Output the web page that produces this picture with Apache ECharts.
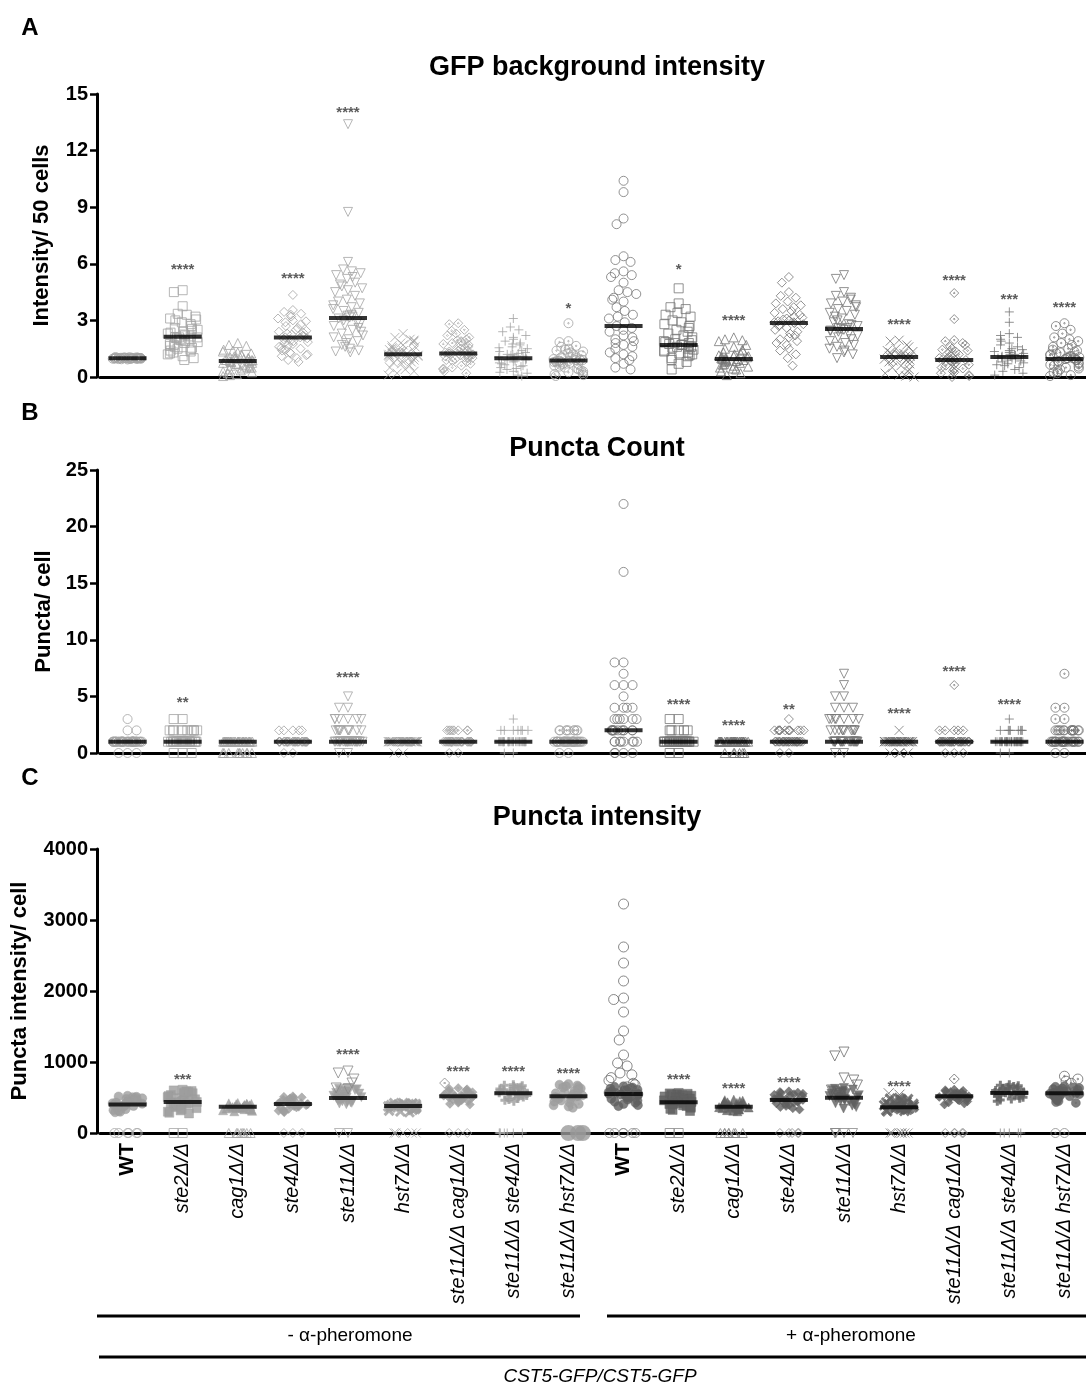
<!DOCTYPE html>
<html>
<head>
<meta charset="utf-8">
<script src="https://cdn.jsdelivr.net/npm/echarts@6.0.0/dist/echarts.min.js"></script>
<style>
html, body { margin: 0; padding: 0; background: #fff; }
#chart { width: 1086px; height: 1386px; }
</style>
</head>
<body>
<div id="chart"></div>
<script>
var categories = ['WT', 'ste2Δ/Δ', 'cag1Δ/Δ', 'ste4Δ/Δ', 'ste11Δ/Δ', 'hst7Δ/Δ',
    'ste11Δ/Δ cag1Δ/Δ', 'ste11Δ/Δ ste4Δ/Δ', 'ste11Δ/Δ hst7Δ/Δ',
    'WT', 'ste2Δ/Δ', 'cag1Δ/Δ', 'ste4Δ/Δ', 'ste11Δ/Δ', 'hst7Δ/Δ',
    'ste11Δ/Δ cag1Δ/Δ', 'ste11Δ/Δ ste4Δ/Δ', 'ste11Δ/Δ hst7Δ/Δ'];
var groupLabels = ['- α-pheromone', '+ α-pheromone'];
var strainLabel = 'CST5-GFP/CST5-GFP';

// A: GFP background intensity, one list per strain
var gfpTicks = [0, 3, 6, 9, 12, 15];
var gfpValues = [
    [0.93,0.95,0.96,0.97,0.97,0.98,0.98,0.98,0.99,0.99,0.99,0.99,1,1,1,1,1,1,1,1,1,1,1.01,1.01,1.01,1.01,1.02,1.02,1.02,1.03,1.03,1.04,1.05,1.06,0.94,0.96,0.97,1,1,1.02],
    [4.6,4.5,3.75,3.35,3.3,3.2,3.1,3.05,3.0,2.9,2.8,2.7,2.6,2.55,2.5,2.45,2.4,2.35,2.3,2.25,2.2,2.15,2.1,2.1,2.1,2.05,2.0,2.0,1.95,1.9,1.85,1.8,1.75,1.7,1.65,1.6,1.55,1.5,1.45,1.4,1.35,1.3,1.25,1.2,1.1,1.0,0.9],
    [1.8,1.7,1.65,1.45,1.4,1.35,1.3,1.25,1.2,1.15,1.1,1.05,1.0,1.0,0.95,0.95,0.9,0.9,0.88,0.85,0.85,0.82,0.8,0.8,0.75,0.75,0.7,0.7,0.65,0.6,0.6,0.55,0.5,0.5,0.45,0.4,0.35,0.3,0.25,0.2,0.15,0.1,0.05,0.9,1.0],
    [4.35,3.55,3.45,3.35,3.3,3.2,3.1,3.0,2.95,2.9,2.8,2.7,2.6,2.5,2.45,2.4,2.3,2.25,2.2,2.15,2.1,2.1,2.05,2.0,1.95,1.9,1.85,1.8,1.75,1.7,1.6,1.5,1.45,1.4,1.3,1.25,1.2,1.1,1.0,0.9,0.8,1.15,1.55,2.35],
    [13.4,8.75,6.1,5.7,5.6,5.5,5.4,5.3,5.2,5.0,4.9,4.8,4.7,4.6,4.5,4.3,4.1,4.0,3.9,3.8,3.7,3.6,3.5,3.4,3.3,3.25,3.2,3.15,3.1,3.0,2.9,2.8,2.75,2.7,2.6,2.5,2.4,2.3,2.2,2.1,2.0,1.9,1.8,1.7,1.6,1.5,1.4,1.35,1.3],
    [2.3,2.1,2.0,1.95,1.9,1.85,1.8,1.7,1.65,1.6,1.55,1.5,1.45,1.4,1.35,1.3,1.25,1.2,1.2,1.2,1.15,1.1,1.05,1.0,0.95,0.9,0.85,0.8,0.75,0.7,0.6,0.5,0.4,0.3,0.2,0.1,1.25,1.35,1.15,1.0,1.3,1.1,1.4],
    [2.85,2.8,2.5,2.45,2.3,2.2,2.1,2.0,1.95,1.9,1.85,1.8,1.75,1.7,1.6,1.55,1.5,1.45,1.4,1.35,1.3,1.25,1.25,1.2,1.2,1.15,1.1,1.05,1.0,0.95,0.9,0.85,0.8,0.7,0.6,0.5,0.45,0.4,0.3,0.2,1.3,1.4,1.0,1.1],
    [3.1,2.65,2.5,2.4,2.2,2.1,2.0,1.9,1.8,1.75,1.7,1.6,1.55,1.5,1.4,1.35,1.3,1.25,1.2,1.15,1.1,1.05,1.0,1.0,1.0,0.95,0.9,0.85,0.8,0.75,0.7,0.65,0.6,0.55,0.5,0.45,0.4,0.3,0.25,0.2,0.1,0.05,1.1,0.9,1.2],
    [2.85,1.9,1.85,1.65,1.6,1.5,1.45,1.4,1.35,1.3,1.25,1.2,1.15,1.1,1.05,1.0,0.95,0.9,0.9,0.85,0.85,0.85,0.8,0.8,0.75,0.7,0.65,0.6,0.55,0.5,0.45,0.4,0.35,0.3,0.25,0.2,0.15,0.1,0.05,0.9,1.0,0.7,0.8],
    [10.4,9.8,8.4,8.1,6.4,6.2,6.1,5.6,5.5,5.4,5.3,5.0,4.6,4.5,4.4,4.2,4.1,4.0,3.7,3.5,3.3,3.2,3.1,2.9,2.7,2.6,2.5,2.4,2.2,2.1,2.0,1.9,1.8,1.7,1.6,1.5,1.3,1.2,1.1,1.0,0.9,0.7,0.5,0.4],
    [4.7,3.9,3.7,3.6,3.4,3.3,3.2,3.0,2.9,2.8,2.7,2.6,2.5,2.4,2.3,2.2,2.1,2.0,1.95,1.9,1.85,1.8,1.75,1.7,1.7,1.65,1.6,1.55,1.5,1.45,1.4,1.35,1.3,1.25,1.2,1.1,1.0,0.9,0.8,0.7,0.4,1.15,1.6,1.8],
    [2.1,2.0,1.95,1.9,1.7,1.6,1.5,1.45,1.4,1.3,1.25,1.2,1.15,1.1,1.05,1.0,1.0,0.95,0.95,0.9,0.9,0.85,0.8,0.75,0.7,0.65,0.6,0.55,0.5,0.45,0.4,0.3,0.2,0.1,1.05,0.95,1.1,0.85],
    [5.3,5.0,4.5,4.3,4.2,4.0,3.9,3.8,3.7,3.6,3.5,3.4,3.3,3.2,3.1,3.0,2.95,2.9,2.9,2.85,2.8,2.7,2.6,2.5,2.4,2.3,2.2,2.1,2.0,1.9,1.8,1.7,1.5,1.4,1.2,1.0,0.6,3.05,2.75,3.15],
    [5.4,5.2,4.5,4.3,4.2,4.1,4.0,3.9,3.8,3.7,3.6,3.5,3.4,3.3,3.2,3.1,3.0,2.9,2.8,2.7,2.6,2.55,2.5,2.45,2.4,2.3,2.2,2.1,2.0,1.9,1.8,1.7,1.6,1.5,1.4,1.3,1.2,1.0,2.6,2.45,2.75],
    [1.95,1.9,1.7,1.6,1.5,1.4,1.35,1.3,1.25,1.2,1.15,1.1,1.1,1.05,1.0,0.95,0.9,0.85,0.8,0.7,0.6,0.5,0.4,0.3,0.2,0.1,0.05,0,1.1,1.2,1.0,0.9],
    [4.45,3.07,1.96,1.9,1.8,1.7,1.6,1.5,1.45,1.4,1.35,1.3,1.2,1.1,1.05,1.0,0.95,0.9,0.9,0.85,0.8,0.75,0.7,0.65,0.6,0.5,0.45,0.4,0.3,0.25,0.2,0.1,0.05,0.0,1.0,0.95,0.85],
    [3.45,2.9,2.3,2.2,2.1,2.0,1.9,1.8,1.7,1.6,1.5,1.45,1.4,1.35,1.3,1.25,1.2,1.15,1.1,1.1,1.05,1.0,0.95,0.9,0.85,0.8,0.75,0.7,0.65,0.6,0.5,0.4,0.3,0.2,0.1,1.1,1.0,1.2],
    [2.85,2.7,2.5,2.3,2.1,2.0,1.9,1.8,1.7,1.6,1.5,1.45,1.4,1.35,1.3,1.25,1.2,1.15,1.1,1.05,1.0,1.0,1.0,0.95,0.9,0.85,0.8,0.75,0.7,0.65,0.6,0.55,0.5,0.45,0.4,0.3,0.25,0.2,0.1,0.05,1.0,0.9,1.1]
];
var gfpMedian = [1.0, 2.13, 0.85, 2.1, 3.13, 1.2, 1.24, 1.0, 0.87, 2.7, 1.7, 0.95, 2.86, 2.54, 1.06, 0.9, 1.06, 0.95];
var gfpStars = ['', '****', '', '****', '****', '', '', '', '*', '', '*', '****', '', '', '****', '****', '***', '****'];
var gfpStarLevel = [0, 5.83, 0, 5.35, 14.15, 0, 0, 0, 3.76, 0, 5.83, 3.13, 0, 0, 2.9, 5.25, 4.24, 3.8];

// B: puncta per cell, [count, number of cells]
var countTicks = [0, 5, 10, 15, 20, 25];
var punctaCount = [
    [[1,40],[0,3],[2,2],[3,1]],
    [[1,35],[2,10],[0,3],[3,2]],
    [[1,35],[0,10]],
    [[1,38],[2,5],[0,2]],
    [[1,30],[2,10],[3,6],[0,2],[4,2],[5,1]],
    [[1,40],[0,2]],
    [[1,35],[2,8],[0,2]],
    [[1,35],[2,7],[0,2],[3,1]],
    [[1,35],[2,9],[0,2]],
    [[2,12],[1,8],[0,4],[3,6],[4,4],[5,1],[6,3],[7,1],[8,2],[16,1],[22,1]],
    [[1,35],[2,5],[0,2],[3,2]],
    [[1,38],[0,6]],
    [[1,28],[2,12],[0,2],[3,1]],
    [[1,22],[2,10],[3,7],[0,2],[4,3],[5,2],[6,1],[7,1]],
    [[1,40],[0,4],[2,1]],
    [[1,35],[2,5],[0,3],[6,1]],
    [[1,35],[2,8],[0,2],[3,1]],
    [[1,25],[2,14],[0,2],[3,2],[4,2],[7,1]]
];
var countMedian = [1, 1, 1, 1, 1, 1, 1, 1, 1, 2, 1, 1, 1, 1, 1, 1, 1, 1];
var countStars = ['', '**', '', '', '****', '', '', '', '', '', '****', '****', '**', '', '****', '****', '****', ''];
var countStarLevel = [0, 4.7, 0, 0, 6.9, 0, 0, 0, 0, 0, 4.5, 2.7, 4.1, 0, 3.7, 7.4, 4.5, 0];

// C: puncta intensity per cell
var intensityTicks = [0, 1000, 2000, 3000, 4000];
var intensityBulk = [
    [525,515,510,505,498,490,480,470,462,455,445,438,430,420,412,405,400,398,392,386,380,372,365,355,345,335,322,310,298,292],
    [610,600,592,585,578,570,560,548,535,520,505,490,475,462,450,440,437,432,425,418,410,400,390,378,365,350,335,318,300,285,275],
    [423,418,414,410,405,400,395,390,385,380,376,372,370,368,365,362,358,354,350,345,340,335,328,320,312,306],
    [517,510,502,495,488,480,470,460,450,440,430,420,412,408,404,400,395,390,385,378,370,360,350,338,325,312,300,292],
    [634,625,615,605,595,585,575,565,555,545,535,525,515,505,498,493,490,485,478,470,462,455,448,440,432,425,415,405],
    [423,420,416,412,408,404,400,396,392,388,384,381,378,375,372,368,364,360,355,350,344,336,326,315,302,292],
    [634,625,615,605,595,585,575,565,555,545,535,525,520,517,514,510,505,498,490,482,472,462,450,438,425,410,400],
    [681,672,664,655,646,637,628,618,608,598,588,578,568,562,559,556,550,542,535,527,518,508,497,485,472,460,448],
    [690,680,670,660,650,640,628,615,602,590,575,560,545,530,520,517,512,505,495,485,472,458,442,425,408,390,372,355],
    [658,650,642,634,626,618,610,602,595,588,580,572,565,558,552,550,546,540,532,524,515,505,494,482,470,455,440,425,408,392,378],
    [564,558,552,546,540,532,524,515,505,495,485,472,460,448,438,432,428,422,415,408,400,390,380,368,355,340,325,310],
    [470,462,455,448,440,432,424,416,408,400,392,385,378,373,371,368,364,360,355,350,344,338,330,322,314,306],
    [587,578,570,562,554,546,538,530,520,510,500,490,480,470,465,462,458,452,445,438,430,420,408,395,380,365,348,330],
    [634,622,612,602,592,582,572,562,552,542,532,522,512,502,498,495,490,482,474,465,455,444,432,418,402,385,365,345],
    [493,485,477,469,460,450,440,430,420,410,400,390,380,372,365,362,359,355,350,345,340,335,328,320,312,305],
    [611,603,595,587,579,571,563,555,547,539,531,523,519,517,515,512,508,502,495,488,480,470,458,445,430,415,402],
    [681,672,664,655,646,637,628,618,608,598,588,578,570,566,564,561,556,549,541,533,524,514,503,491,478,464,448],
    [658,650,642,634,626,618,610,600,590,580,570,562,559,556,552,547,541,534,526,518,509,499,488,476,463,449,435,424]
];
var intensityHigh = [
    [], [], [], [], [873, 845, 760, 704, 634, 620], [], [704], [], [],
    [3225, 2620, 2394, 2141, 1901, 1880, 1704, 1437, 1310, 1099, 986, 944, 845, 820, 780, 740, 700, 680, 650],
    [], [], [], [1140, 1085, 775, 746, 676, 606], [560, 540], [760], [], [800, 760, 730, 700]
];
var intensityZeroCells = [6, 2, 8, 3, 2, 5, 3, 7, 3, 6, 2, 8, 5, 5, 7, 5, 5, 2];
var intensityMedian = [400, 437, 371, 409, 493, 380, 517, 559, 517, 550, 432, 371, 465, 498, 362, 517, 564, 559];
var intensityStars = ['', '***', '', '', '****', '', '****', '****', '****', '', '****', '****', '****', '', '****', '', '', ''];
var intensityStarLevel = [0, 785, 0, 0, 1147, 0, 907, 907, 870, 0, 790, 658, 752, 0, 696, 0, 0, 0];

var FONT = '"Liberation Sans", Arial, Helvetica, sans-serif';
var symbols = ['circle', 'rect', 'triangle', 'diamond',
    'path://M0,0L10,0L5,9Z',
    'path://M0,0L10,10M10,0L0,10',
    'path://M5,0L10,5L5,10L0,5ZM5,4L6,5L5,6L4,5Z',
    'path://M5,0L5,10M0,5L10,5',
    'path://M10,5A5,5,0,1,1,0,5A5,5,0,1,1,10,5ZM5.8,5A0.8,0.8,0,1,1,4.2,5A0.8,0.8,0,1,1,5.8,5Z'];
// symbols drawn only by their stroke
var strokeOnly = { 5: true, 7: true };

function hollow(c) {
    return { color: 'rgba(0,0,0,0)', borderColor: c, borderWidth: 1 };
}
function solid(c, i) {
    return { color: c, borderColor: c, borderWidth: strokeOnly[i % 9] ? 3 : 0.5 };
}
function strokeFor(i) { return i < 9 ? '#a4a4a4' : '#777777'; }
function expand(freq) {
    var out = [];
    freq.forEach(function (p) { for (var k = 0; k < p[1]; k++) out.push(p[0]); });
    return out;
}

var series = [];
function addPoints(panel, i, vals, style, size, z) {
    series.push({
        type: 'scatter', xAxisIndex: panel * 2, yAxisIndex: panel,
        symbol: symbols[i % 9], symbolSize: size, clip: false, silent: true,
        z: z || 2, itemStyle: style,
        data: vals.map(function (v) { return [i, v]; })
    });
}
function addMedians(panel, medians) {
    series.push({
        type: 'scatter', xAxisIndex: panel * 2 + 1, yAxisIndex: panel,
        symbol: 'rect', symbolSize: [38, 4], clip: false, silent: true, z: 10,
        itemStyle: { color: '#000' },
        data: medians.map(function (m, i) { return [i, m]; })
    });
}
function addStars(panel, stars, levels) {
    var d = [];
    stars.forEach(function (s, i) { if (s) d.push({ value: [i, levels[i]], name: s }); });
    series.push({
        type: 'scatter', xAxisIndex: panel * 2 + 1, yAxisIndex: panel,
        symbolSize: 1, clip: false, silent: true, z: 11,
        itemStyle: { color: 'rgba(0,0,0,0)' },
        label: { show: true, position: 'inside', formatter: '{b}', offset: [0, 3],
            fontFamily: FONT, fontSize: 15, fontWeight: 'bold', color: '#333' },
        data: d
    });
}

for (var i = 0; i < 18; i++) {
    addPoints(0, i, gfpValues[i], hollow(strokeFor(i)), 9);
    addPoints(1, i, expand(punctaCount[i]), hollow(strokeFor(i)), 9);
    addPoints(2, i, intensityBulk[i], solid(i < 9 ? '#9d9d9d' : '#5f5f5f', i), 9);
    addPoints(2, i, intensityHigh[i], hollow(i < 9 ? '#8a8a8a' : '#6a6a6a'), 10, 3);
    var zeros = [];
    for (var k = 0; k < intensityZeroCells[i]; k++) zeros.push(0);
    if (i === 8) {
        addPoints(2, i, zeros, { color: '#9a9a9a', borderWidth: 0 }, 16, 3);
    } else {
        addPoints(2, i, zeros, hollow(i < 9 ? '#a8a8a8' : '#8a8a8a'), 9, 3);
    }
}
addMedians(0, gfpMedian);
addMedians(1, countMedian);
addMedians(2, intensityMedian);
addStars(0, gfpStars, gfpStarLevel);
addStars(1, countStars, countStarLevel);
addStars(2, intensityStars, intensityStarLevel);

var panels = [
    { top: 94, height: 283, ticks: gfpTicks, name: 'Intensity/ 50 cells', nameGap: 44 },
    { top: 470, height: 283, ticks: countTicks, name: 'Puncta/ cell', nameGap: 41 },
    { top: 849, height: 284, ticks: intensityTicks, name: 'Puncta intensity/ cell', nameGap: 66 }
];

var grids = [], xAxes = [], yAxes = [];
panels.forEach(function (p, idx) {
    grids.push({ left: 100, top: p.top, width: 992, height: p.height, containLabel: false, outerBoundsMode: 'none' });
    xAxes.push({
        gridIndex: idx, type: 'category', data: categories,
        jitter: 30, jitterOverlap: false, jitterMargin: 0,
        axisLine: { lineStyle: { color: '#000', width: 3 } },
        axisTick: { alignWithLabel: true, interval: 0, length: 7, lineStyle: { color: '#000', width: 2.5 } },
        splitLine: { show: false },
        axisLabel: idx < 2 ? { show: false } : {
            show: true, interval: 0, rotate: 90, margin: 10, color: '#000', fontFamily: FONT,
            formatter: function (v) { return v === 'WT' ? '{wt|WT}' : '{m|' + v + '}'; },
            rich: {
                wt: { fontFamily: FONT, fontSize: 21, fontWeight: 'bold', color: '#000' },
                m: { fontFamily: FONT, fontSize: 20, fontStyle: 'italic', color: '#000' }
            }
        }
    });
    xAxes.push({ gridIndex: idx, type: 'category', data: categories, show: false });
    yAxes.push({
        gridIndex: idx, type: 'value', offset: 3,
        min: p.ticks[0], max: p.ticks[p.ticks.length - 1], interval: p.ticks[1] - p.ticks[0],
        name: p.name, nameLocation: 'middle', nameGap: p.nameGap,
        nameTextStyle: { fontFamily: FONT, fontSize: 22, fontWeight: 'bold', color: '#000' },
        axisLine: { show: true, lineStyle: { color: '#000', width: 3 } },
        axisTick: { show: true, length: 7, lineStyle: { color: '#000', width: 2.5 } },
        axisLabel: { fontFamily: FONT, fontSize: 20, fontWeight: 'bold', color: '#000', margin: 9,
            formatter: function (v) { return String(v); } },
        splitLine: { show: false }
    });
});

function txt(x, y, text, size, weight, style) {
    return { type: 'text', x: x, y: y, silent: true,
        style: { text: text, fontFamily: FONT, fontSize: size, fontWeight: weight || 'normal',
            fontStyle: style || 'normal', fill: '#000',
            align: 'center', verticalAlign: 'middle', textAlign: 'center', textVerticalAlign: 'middle' } };
}
function hline(x1, x2, y) {
    return { type: 'line', silent: true, shape: { x1: x1, y1: y, x2: x2, y2: y },
        style: { stroke: '#000', lineWidth: 3 } };
}

var graphics = [
    txt(30, 28, 'A', 24, 'bold'), txt(30, 413, 'B', 24, 'bold'), txt(30, 778, 'C', 24, 'bold'),
    txt(597, 68, 'GFP background intensity', 27, 'bold'),
    txt(597, 449, 'Puncta Count', 27, 'bold'),
    txt(597, 818, 'Puncta intensity', 27, 'bold'),
    hline(97, 580, 1316), hline(607, 1086, 1316), hline(99, 1086, 1357),
    txt(350, 1336, groupLabels[0], 19), txt(851, 1336, groupLabels[1], 19),
    txt(600, 1377, strainLabel, 19, 'normal', 'italic')
];

var chart = echarts.init(document.getElementById('chart'));
chart.setOption({
    animation: false,
    backgroundColor: '#fff',
    grid: grids,
    xAxis: xAxes,
    yAxis: yAxes,
    graphic: graphics,
    series: series
});
</script>
</body>
</html>
